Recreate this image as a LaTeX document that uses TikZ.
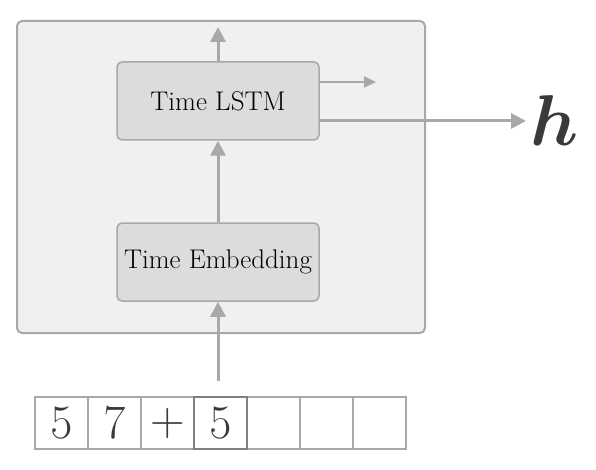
\RequirePackage{fix-cm}
\documentclass[tikz,border=0pt]{standalone}
\usepackage{bm}
\usetikzlibrary{arrows.meta}
\definecolor{outerfill}{HTML}{F0F0F0}
\definecolor{boxfill}{HTML}{DCDCDC}
\definecolor{linegray}{HTML}{A8A8A8}
\definecolor{hgray}{HTML}{3A3A3A}
\tikzset{
  outerbox/.style={draw=linegray, line width=2pt, fill=outerfill, rounded corners=5pt},
  layerbox/.style={draw=linegray, line width=1.5pt, fill=boxfill, rounded corners=5pt,
    minimum width=202pt, minimum height=78pt, inner sep=0pt,
    font=\fontsize{27}{32}\selectfont},
  conn/.style={draw=linegray, line width=3pt, -{Triangle[length=15pt,width=15pt]}},
  smallconn/.style={draw=linegray, line width=2pt, -{Triangle[length=12pt,width=11pt]}},
  cell/.style={draw=linegray, line width=1.5pt, minimum width=53pt, minimum height=52pt,
    inner sep=0pt, font=\fontsize{48}{50}\selectfont, text=hgray},
  curcell/.style={cell, draw=gray},
}
\begin{document}
\begin{tikzpicture}[x=1pt,y=-1pt]
\useasboundingbox (0,0) rectangle (596,470);
\node[outerbox, minimum width=408pt, minimum height=312pt, inner sep=0pt] (outer) at (221,177) {};
\node[layerbox] (lstm) at (218,101) {Time LSTM};
\node[layerbox] (emb) at (218,262) {Time Embedding};
\coordinate (top) at (218,27);
\coordinate (rec) at (376,82);
\node[font=\fontsize{72}{72}\selectfont, text=hgray, inner sep=0pt, anchor=west] (h) at (530,121) {$\bm{h}$};
\foreach \i/\t in {1/5,2/7,3/+,4/5,5/,6/,7/} {
  \node[cell] (c\i) at ({35+53*(\i-1)+26.5},423) {\ifx\t\empty\else$\t$\fi};
}
\node[curcell] (cur) at (c4) {};
\coordinate (inbot) at (218,381);
\draw[conn] (lstm.north) -- (top);
\draw[smallconn] (lstm.east |- rec) -- (rec);
\draw[conn] (lstm.east |- h.west) -- ([xshift=-4pt]h.west);
\draw[conn] (emb.north) -- (lstm.south);
\draw[conn] (inbot) -- (emb.south);
\end{tikzpicture}
\end{document}
